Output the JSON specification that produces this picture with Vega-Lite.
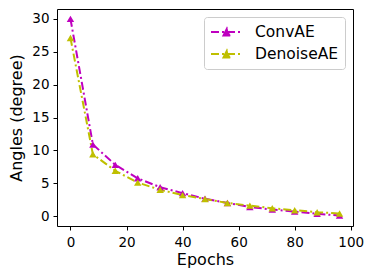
{
  "$schema": "https://vega.github.io/schema/vega-lite/v6.json",
  "autosize": {"type": "none"},
  "width": 296,
  "height": 217,
  "padding": {"left": 57, "top": 9, "right": 21, "bottom": 53},
  "background": "white",
  "config": {
    "font": "DejaVu Sans",
    "view": {"stroke": "black", "strokeWidth": 1},
    "axis": {
      "grid": false,
      "domain": false,
      "ticks": true,
      "tickColor": "black",
      "tickSize": 4,
      "tickWidth": 1,
      "labelFont": "DejaVu Sans",
      "labelFontSize": 13.5,
      "labelColor": "black",
      "titleFont": "DejaVu Sans",
      "titleFontSize": 16,
      "titleFontWeight": "normal",
      "titleColor": "black"
    }
  },
  "data": {
    "values": [
      {"epoch": 0, "model": "ConvAE", "angle": 30.0},
      {"epoch": 8, "model": "ConvAE", "angle": 10.9},
      {"epoch": 16, "model": "ConvAE", "angle": 7.8},
      {"epoch": 24, "model": "ConvAE", "angle": 5.75},
      {"epoch": 32, "model": "ConvAE", "angle": 4.4},
      {"epoch": 40, "model": "ConvAE", "angle": 3.5},
      {"epoch": 48, "model": "ConvAE", "angle": 2.65},
      {"epoch": 56, "model": "ConvAE", "angle": 2.0},
      {"epoch": 64, "model": "ConvAE", "angle": 1.4},
      {"epoch": 72, "model": "ConvAE", "angle": 1.0},
      {"epoch": 80, "model": "ConvAE", "angle": 0.7},
      {"epoch": 88, "model": "ConvAE", "angle": 0.35},
      {"epoch": 96, "model": "ConvAE", "angle": 0.1},
      {"epoch": 0, "model": "DenoiseAE", "angle": 27.1},
      {"epoch": 8, "model": "DenoiseAE", "angle": 9.4},
      {"epoch": 16, "model": "DenoiseAE", "angle": 6.9},
      {"epoch": 24, "model": "DenoiseAE", "angle": 5.1},
      {"epoch": 32, "model": "DenoiseAE", "angle": 4.0},
      {"epoch": 40, "model": "DenoiseAE", "angle": 3.2},
      {"epoch": 48, "model": "DenoiseAE", "angle": 2.6},
      {"epoch": 56, "model": "DenoiseAE", "angle": 2.0},
      {"epoch": 64, "model": "DenoiseAE", "angle": 1.6},
      {"epoch": 72, "model": "DenoiseAE", "angle": 1.2},
      {"epoch": 80, "model": "DenoiseAE", "angle": 0.9},
      {"epoch": 88, "model": "DenoiseAE", "angle": 0.6},
      {"epoch": 96, "model": "DenoiseAE", "angle": 0.4}
    ]
  },
  "encoding": {
    "x": {
      "field": "epoch",
      "type": "quantitative",
      "scale": {"domain": [-4.8, 100.8], "nice": false, "zero": false},
      "axis": {"title": "Epochs", "values": [0, 20, 40, 60, 80, 100], "labelPadding": 5, "titlePadding": 3}
    },
    "y": {
      "field": "angle",
      "type": "quantitative",
      "scale": {"domain": [-1.5, 31.5], "nice": false, "zero": false},
      "axis": {"title": "Angles (degree)", "values": [0, 5, 10, 15, 20, 25, 30], "labelPadding": 4, "titlePadding": 7}
    },
    "color": {
      "field": "model",
      "type": "nominal",
      "scale": {"domain": ["ConvAE", "DenoiseAE"], "range": ["#bf00bf", "#bfbf00"]},
      "legend": {
        "title": null,
        "orient": "top-right",
        "offset": 8,
        "padding": 6,
        "strokeColor": "#cccccc",
        "fillColor": "white",
        "cornerRadius": 3,
        "symbolType": "M-1,0L1,0M-0.22,0.22L0,-0.22L0.22,0.22Z",
        "symbolSize": 1024,
        "symbolStrokeWidth": 2,
        "symbolDash": [8, 3, 2, 3],
        "symbolOffset": 0,
        "clipHeight": 18,
        "rowPadding": 4,
        "labelOffset": 11,
        "labelFontSize": 15.5,
        "labelFont": "DejaVu Sans",
        "labelColor": "black",
        "encode": {
          "symbols": {
            "update": {
              "fill": {"scale": "color", "field": "value"},
              "stroke": {"scale": "color", "field": "value"},
              "opacity": {"value": 1}
            }
          }
        }
      }
    }
  },
  "layer": [
    {
      "mark": {"type": "line", "strokeWidth": 2, "strokeDash": [8, 3, 2, 3]}
    },
    {
      "mark": {"type": "point", "shape": "triangle-up", "filled": true, "size": 55, "opacity": 1}
    }
  ]
}
